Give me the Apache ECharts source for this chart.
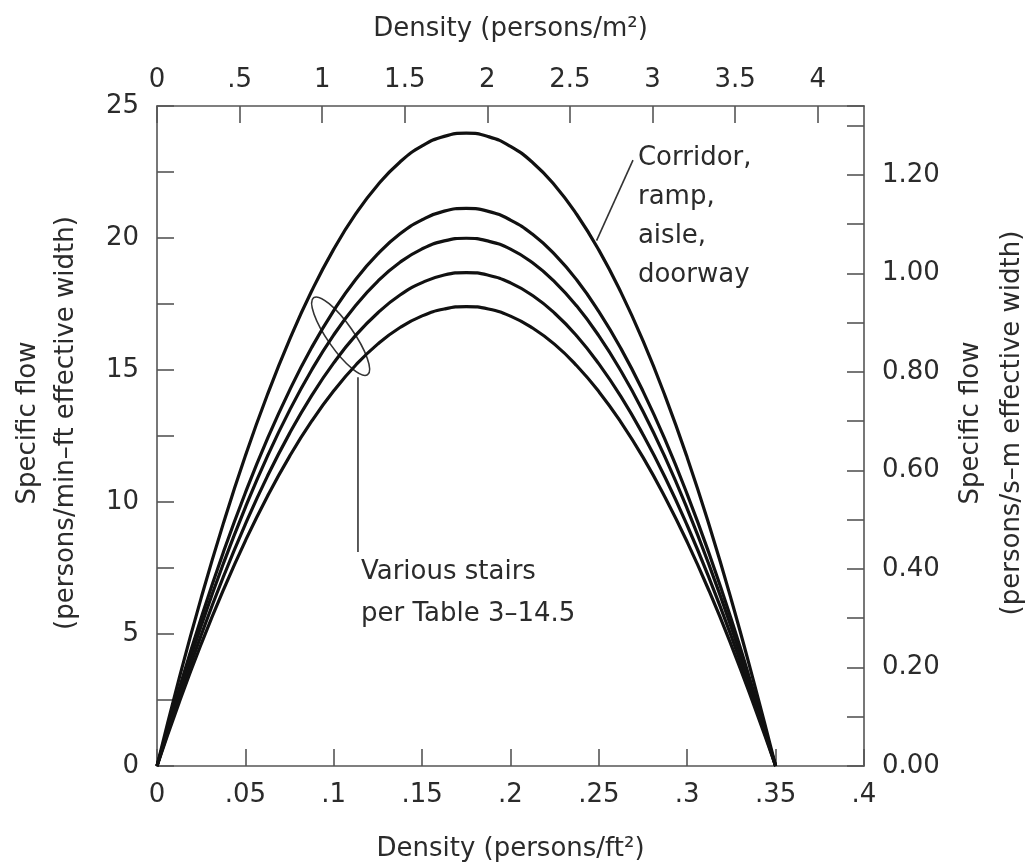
<!DOCTYPE html>
<html>
<head>
<meta charset="utf-8">
<script src="https://cdn.jsdelivr.net/npm/echarts@6.0.0/dist/echarts.min.js"></script>
<style>
html,body{margin:0;padding:0;background:#fff;}
#chart{width:1032px;height:867px;}
</style>
</head>
<body>
<div id="chart"></div>
<script>
// Density (persons/ft²) sample points
const densityFt = [0, 0.0125, 0.025, 0.0375, 0.05, 0.0625, 0.075, 0.0875, 0.1, 0.1125, 0.125, 0.1375, 0.15, 0.1625, 0.175,
                   0.1875, 0.2, 0.2125, 0.225, 0.2375, 0.25, 0.2625, 0.275, 0.2875, 0.3, 0.3125, 0.325, 0.3375, 0.35];
// Specific flow (persons/min-ft effective width)
const flowCorridor = [0, 3.31, 6.37, 9.18, 11.75, 14.07, 16.15, 17.99, 19.58, 20.92, 22.02, 22.88, 23.49, 23.85, 23.97,
                      23.84, 23.47, 22.86, 22.00, 20.89, 19.54, 17.94, 16.10, 14.01, 11.68, 9.10, 6.28, 3.22, 0];
const flowStair1   = [0, 2.91, 5.61, 8.09, 10.35, 12.40, 14.23, 15.85, 17.25, 18.44, 19.40, 20.16, 20.69, 21.02, 21.12,
                      21.01, 20.68, 20.14, 19.38, 18.41, 17.21, 15.81, 14.19, 12.35, 10.29, 8.02, 5.54, 2.83, 0];
const flowStair2   = [0, 2.76, 5.31, 7.66, 9.80, 11.74, 13.47, 15.00, 16.33, 17.45, 18.37, 19.08, 19.59, 19.89, 19.99,
                      19.88, 19.58, 19.06, 18.34, 17.42, 16.29, 14.96, 13.43, 11.69, 9.74, 7.59, 5.24, 2.68, 0];
const flowStair3   = [0, 2.58, 4.96, 7.16, 9.16, 10.98, 12.60, 14.03, 15.27, 16.32, 17.17, 17.84, 18.31, 18.60, 18.69,
                      18.59, 18.30, 17.82, 17.15, 16.29, 15.23, 13.99, 12.55, 10.93, 9.11, 7.10, 4.90, 2.51, 0];
const flowStair4   = [0, 2.40, 4.62, 6.66, 8.53, 10.22, 11.73, 13.06, 14.21, 15.19, 15.99, 16.61, 17.05, 17.31, 17.40,
                      17.31, 17.04, 16.59, 15.97, 15.16, 14.18, 13.02, 11.69, 10.17, 8.48, 6.61, 4.56, 2.34, 0];

const seriesNames = ['Corridor, ramp, aisle, doorway', 'Stair 1', 'Stair 2', 'Stair 3', 'Stair 4'];
const seriesValues = [flowCorridor, flowStair1, flowStair2, flowStair3, flowStair4];

// Axis titles / annotation texts
const bottomTitle = 'Density (persons/ft²)';
const topTitle = 'Density (persons/m²)';
const leftTitle = 'Specific flow\n(persons/min–ft effective width)';
const rightTitle = 'Specific flow\n(persons/s–m effective width)';
const corridorText = 'Corridor,\nramp,\naisle,\ndoorway';
const stairsText = 'Various stairs\nper Table 3–14.5';

const FONT = 'DejaVu Sans';
const TXT = '#2b2b2b';
const AX = '#555';

function dotLabel(v){
  if (Math.abs(v) < 1e-9) return '0';
  let s = String(+v.toFixed(4));
  return s.replace(/^0\./, '.');
}

const chart = echarts.init(document.getElementById('chart'), null, {renderer:'canvas'});

const axisLineStyle = {show:true, onZero:false, lineStyle:{color:AX, width:1.6}};
const tickStyle = {show:true, inside:true, length:17, lineStyle:{color:AX, width:1.6}};
const labelBase = {color:TXT, fontFamily:FONT, fontSize:26};
const nameBase = {color:TXT, fontFamily:FONT, fontSize:26};

const option = {
  backgroundColor:'#fff',
  animation:false,
  grid:{left:157, right:168, top:106, bottom:101, containLabel:false, outerBoundsMode:'none'},
  xAxis:[
    {type:'value', position:'bottom', min:0, max:0.4, interval:0.05,
     axisLine:axisLineStyle, axisTick:tickStyle, splitLine:{show:false},
     axisLabel:Object.assign({margin:16, formatter:dotLabel}, labelBase),
     name:bottomTitle, nameLocation:'middle', nameGap:70, nameTextStyle:nameBase},
    {type:'value', position:'top', min:0, max:4.28, interval:0.5,
     axisLine:axisLineStyle, axisTick:tickStyle, splitLine:{show:false},
     axisLabel:Object.assign({margin:13, showMaxLabel:false, formatter:function(v){
       return (Math.abs(v*2 - Math.round(v*2)) < 1e-6) ? dotLabel(v) : '';
     }}, labelBase),
     name:topTitle, nameLocation:'middle', nameGap:64, nameTextStyle:nameBase}
  ],
  yAxis:[
    {type:'value', position:'left', min:0, max:25, interval:2.5,
     axisLine:axisLineStyle, axisTick:tickStyle, splitLine:{show:false},
     axisLabel:Object.assign({margin:18, formatter:function(v){return (Math.abs(v%5)<1e-9)?String(v):'';}}, labelBase),
     name:leftTitle, nameLocation:'middle', nameRotate:90, nameGap:72,
     nameTextStyle:Object.assign({lineHeight:38, align:'center', padding:[0,0,0,26]}, nameBase)},
    {type:'value', position:'right', min:0, max:1.34, interval:0.1,
     axisLine:axisLineStyle, axisTick:tickStyle, splitLine:{show:false},
     axisLabel:Object.assign({margin:18, formatter:function(v){return (Math.round(v*10)%2===0)?v.toFixed(2):'';}}, labelBase),
     name:rightTitle, nameLocation:'middle', nameRotate:90, nameGap:86,
     nameTextStyle:Object.assign({lineHeight:41, align:'center', padding:[0,0,0,26]}, nameBase)}
  ],
  series: seriesValues.map(function(vals, i){
    return {
      name:seriesNames[i], type:'line', xAxisIndex:0, yAxisIndex:0,
      smooth:true, symbol:'none', silent:true,
      lineStyle:{color:'#111', width:3.2},
      data: densityFt.map(function(d, j){ return [d, vals[j]]; })
    };
  })
};
chart.setOption(option);

// Annotations anchored in data coordinates
function px(x, y){ return chart.convertToPixel({xAxisIndex:0, yAxisIndex:0}, [x, y]); }
const cTxt = px(0.2721, 23.75);
const cL1 = px(0.2693, 22.95), cL2 = px(0.2487, 19.9);
const sTxt = px(0.1154, 8.14);
const sL1 = px(0.1137, 14.73), sL2 = px(0.1137, 8.11);
const ell = px(0.1039, 16.28);

chart.setOption({
  graphic:[
    {type:'text', left:cTxt[0], top:cTxt[1], silent:true,
     style:{text:corridorText, fill:TXT, font:'26px "DejaVu Sans"', lineHeight:39}},
    {type:'line', silent:true, shape:{x1:cL1[0], y1:cL1[1], x2:cL2[0], y2:cL2[1]},
     style:{stroke:'#333', lineWidth:1.6}},
    {type:'text', left:sTxt[0], top:sTxt[1], silent:true,
     style:{text:stairsText, fill:TXT, font:'26px "DejaVu Sans"', lineHeight:42}},
    {type:'line', silent:true, shape:{x1:sL1[0], y1:sL1[1], x2:sL2[0], y2:sL2[1]},
     style:{stroke:'#333', lineWidth:1.6}},
    {type:'ellipse', silent:true, x:ell[0], y:ell[1], rotation:-55*Math.PI/180,
     shape:{cx:0, cy:0, rx:47, ry:13},
     style:{fill:'none', stroke:'#333', lineWidth:1.6}}
  ]
});
</script>
</body>
</html>
